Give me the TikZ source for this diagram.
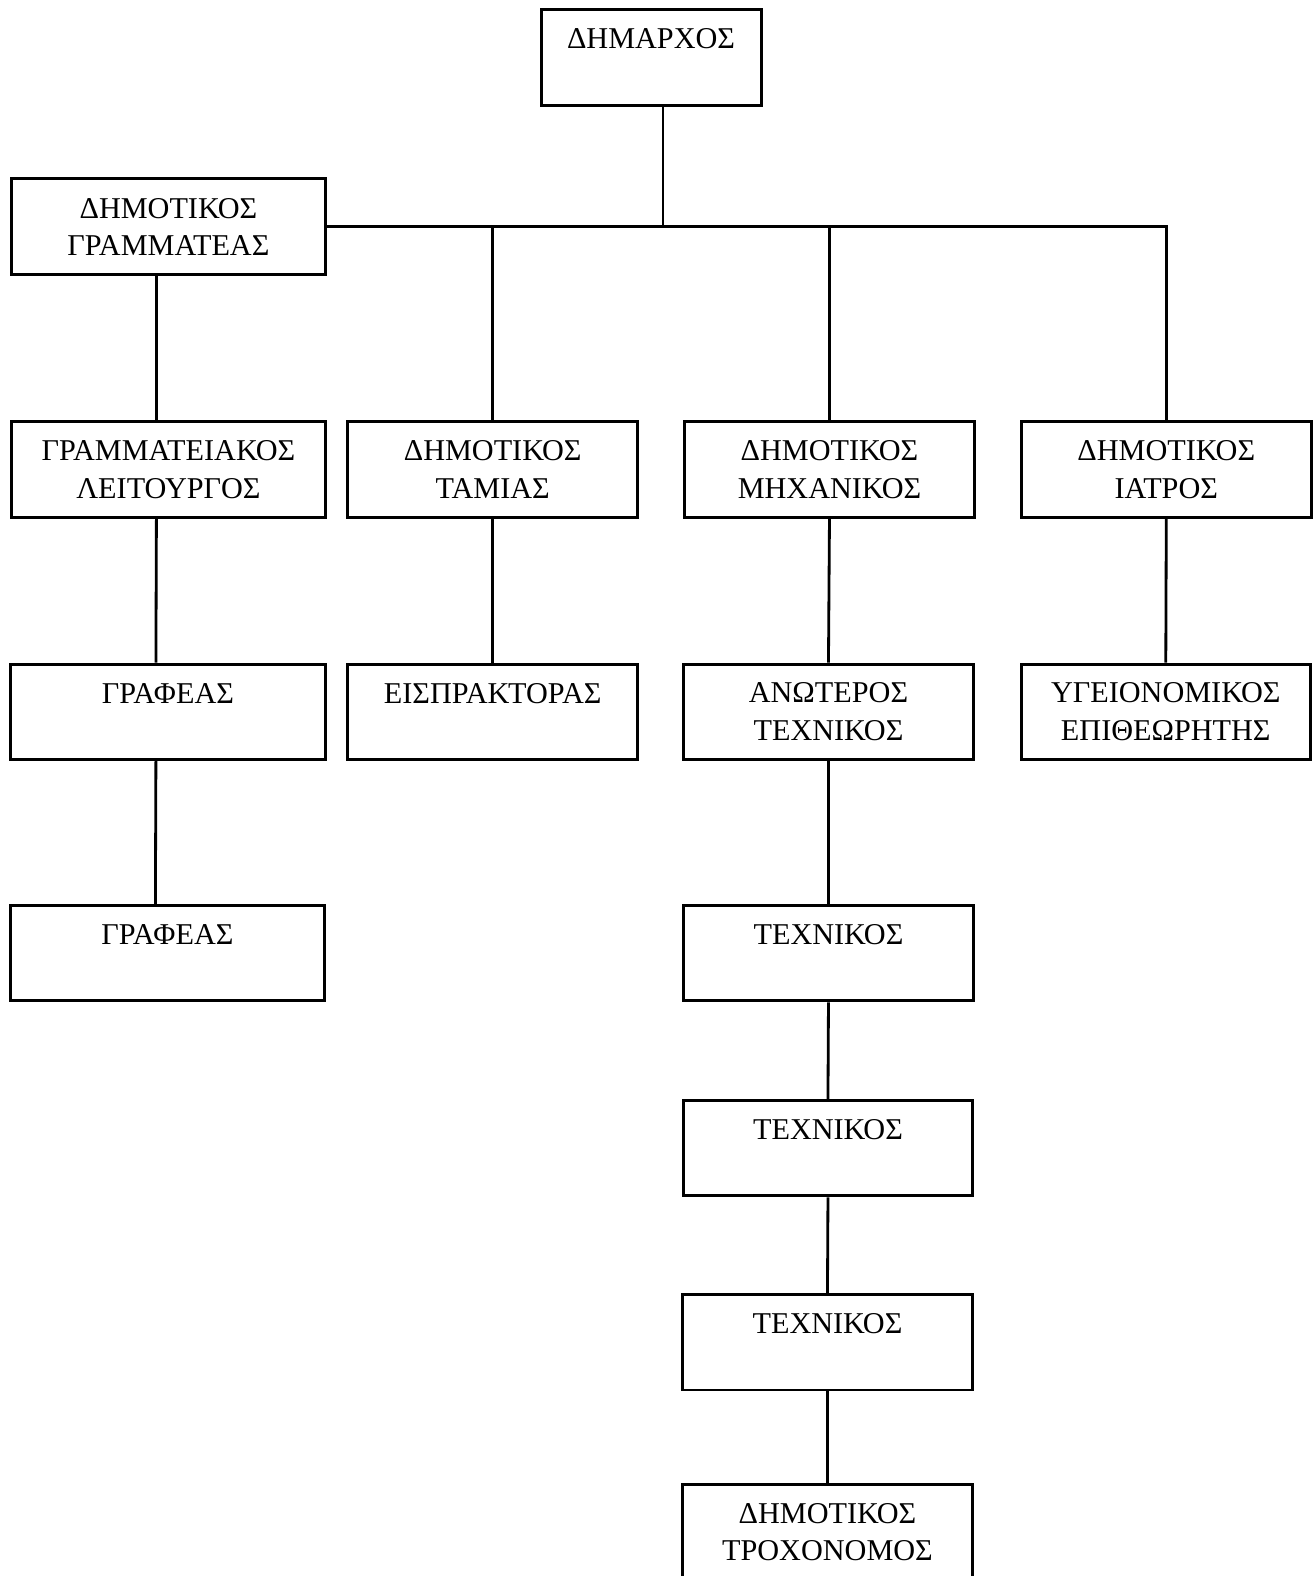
\documentclass[tikz,border=0pt]{standalone}
\usepackage{fontspec}
\setmainfont{Liberation Serif}
\usetikzlibrary{positioning}

\begin{document}
\begin{tikzpicture}[x=0.02011cm,y=-0.02011cm,
  post/.style={draw,line width=1.7pt,minimum height=1.91cm,minimum width=5.79cm,inner sep=2pt,align=center,font=\fontsize{17.2}{21.3}\selectfont},
  wide/.style={minimum width=6.29cm},
  link/.style={line width=1.6pt}]
\useasboundingbox[fill=white] (0,0) rectangle (1306.9,1567.5);

% top of the chart
\node[post,minimum width=4.40cm] (dimarchos) at (647.5,57) {ΔΗΜΑΡΧΟΣ\\\phantom{Α}};
\node[post,wide] (grammateas) at (167.5,225.5) {ΔΗΜΟΤΙΚΟΣ\\ΓΡΑΜΜΑΤΕΑΣ};

% second row
\node[post,wide] (leitourgos) at (167.5,467) {ΓΡΑΜΜΑΤΕΙΑΚΟΣ\\ΛΕΙΤΟΥΡΓΟΣ};
\node[post] (tamias) at (490,467) {ΔΗΜΟΤΙΚΟΣ\\ΤΑΜΙΑΣ};
\node[post] (michanikos) at (825,467) {ΔΗΜΟΤΙΚΟΣ\\ΜΗΧΑΝΙΚΟΣ};
\node[post] (iatros) at (1160,467) {ΔΗΜΟΤΙΚΟΣ\\ΙΑΤΡΟΣ};

% third row
\node[post,wide] (grafeasA) at (167,708) {ΓΡΑΦΕΑΣ\\\phantom{Α}};
\node[post] (eispraktoras) at (490,708) {ΕΙΣΠΡΑΚΤΟΡΑΣ\\\phantom{Α}};
\node[post] (anoteros) at (824,708) {ΑΝΩΤΕΡΟΣ\\ΤΕΧΝΙΚΟΣ};
\node[post] (ygeionomikos) at (1159.5,708) {ΥΓΕΙΟΝΟΜΙΚΟΣ\\ΕΠΙΘΕΩΡΗΤΗΣ};

% lower rows
\node[post,wide] (grafeasB) at (166.5,948) {ΓΡΑΦΕΑΣ\\\phantom{Α}};
\node[post] (technikosA) at (824,948) {ΤΕΧΝΙΚΟΣ\\\phantom{Α}};
\node[post] (technikosB) at (823.5,1142) {ΤΕΧΝΙΚΟΣ\\\phantom{Α}};
\node[post] (technikosC) at (823,1335) {ΤΕΧΝΙΚΟΣ\\\phantom{Α}};
\node[post] (trochonomos) at (823,1524) {ΔΗΜΟΤΙΚΟΣ\\ΤΡΟΧΟΝΟΜΟΣ};

% connectors
\draw[link] ([xshift=0.24cm]dimarchos.south) -- ([xshift=0.24cm]dimarchos.south |- grammateas.east);
\draw[link] (grammateas.east) -- (iatros.north |- grammateas.east) -- (iatros.north);
\draw[link] (tamias.north) -- (tamias.north |- grammateas.east);
\draw[link] (michanikos.north) -- (michanikos.north |- grammateas.east);
\foreach \a/\b in {grammateas/leitourgos,leitourgos/grafeasA,grafeasA/grafeasB}
  \draw[link] ([xshift=-0.24cm]\a.south) -- ([xshift=-0.24cm]\b.north);
\foreach \a/\b in {tamias/eispraktoras,iatros/ygeionomikos,michanikos/anoteros,anoteros/technikosA,technikosA/technikosB,technikosB/technikosC,technikosC/trochonomos}
  \draw[link] (\a.south) -- (\b.north);

\end{tikzpicture}
\end{document}
